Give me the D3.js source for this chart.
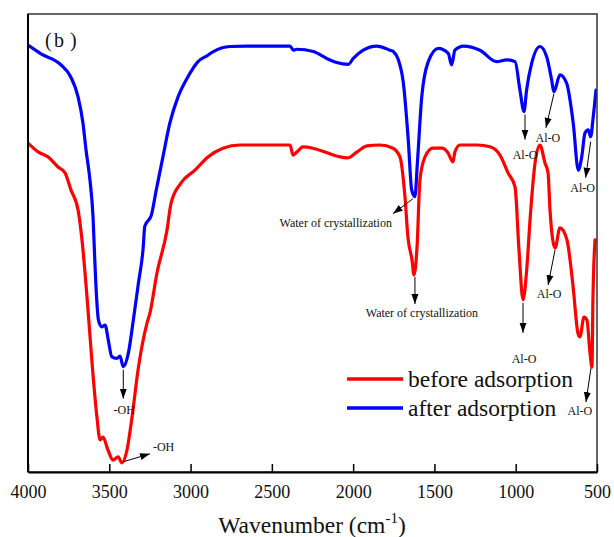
<!DOCTYPE html>
<html>
<head>
<meta charset="utf-8">
<script src="https://cdn.jsdelivr.net/npm/d3@7/dist/d3.min.js"></script>
<style>
  html, body { margin: 0; padding: 0; background: #fff; }
  svg { display: block; }
</style>
</head>
<body>
<svg id="chart" width="614" height="537"></svg>
<script>
// FTIR spectra: [wavenumber (cm-1), transmittance (a.u.)]
const seriesNames = ["before adsorption", "after adsorption"];
const seriesColors = ["#ff0000", "#0000ff"];

const beforeSpectrum = [
  [4000, 71.8], [3938, 69.9], [3877, 68.8], [3815, 66.6], [3772, 65.3], [3736, 61.6],
  [3692, 57.2], [3668, 50.7], [3637, 38.2], [3606, 23.8], [3576, 12.0], [3557, 7.0],
  [3539, 7.6], [3508, 4.8], [3477, 2.6], [3446, 3.3], [3422, 2.0], [3391, 4.8],
  [3360, 12.0], [3323, 22.3], [3268, 32.5], [3250, 34.7], [3207, 43.4], [3145, 52.8],
  [3120, 58.7], [3059, 63.1], [2973, 65.9], [2893, 68.8], [2801, 70.7], [2696, 71.4],
  [2555, 71.4], [2388, 71.4], [2370, 69.2], [2345, 69.9], [2308, 71.0], [2247, 70.7],
  [2161, 69.7], [2081, 68.8], [2032, 68.6], [1976, 69.9], [1915, 71.2], [1835, 71.4],
  [1755, 70.7], [1712, 68.8], [1681, 60.0], [1663, 51.3], [1638, 46.3], [1626, 43.0],
  [1607, 49.1], [1589, 63.8], [1558, 68.8], [1509, 70.7], [1453, 70.7], [1417, 69.7],
  [1386, 67.7], [1374, 69.9], [1343, 71.4], [1238, 71.4], [1158, 71.0], [1097, 69.2],
  [1047, 65.3], [1004, 62.2], [980, 48.5], [955, 37.6], [931, 44.8], [912, 55.0],
  [881, 67.5], [851, 71.4], [820, 67.5], [801, 65.3], [789, 57.2], [758, 48.9],
  [728, 53.3], [685, 50.7], [648, 40.8], [617, 30.3], [605, 29.5], [580, 33.8],
  [562, 33.2], [543, 26.0], [531, 22.9], [525, 37.6], [512, 50.7]
];

const afterSpectrum = [
  [4000, 93.2], [3920, 91.3], [3797, 88.9], [3736, 86.2], [3692, 81.9], [3662, 76.2],
  [3643, 70.3], [3619, 63.8], [3600, 55.7], [3590, 47.0], [3578, 38.0], [3567, 33.2],
  [3547, 31.7], [3526, 32.1], [3506, 28.8], [3485, 25.2], [3454, 24.8], [3434, 25.3],
  [3414, 23.0], [3383, 25.9], [3352, 33.2], [3321, 41.2], [3291, 49.2], [3282, 53.6],
  [3241, 56.1], [3211, 61.6], [3170, 68.8], [3128, 76.1], [3077, 81.9], [3016, 86.3],
  [2954, 89.6], [2893, 91.0], [2860, 91.8], [2757, 92.9], [2655, 93.0], [2388, 93.0],
  [2368, 92.1], [2347, 92.3], [2245, 91.8], [2163, 90.3], [2101, 89.4], [2030, 89.0],
  [1999, 90.3], [1938, 92.1], [1855, 93.0], [1773, 92.1], [1753, 91.8], [1722, 90.0],
  [1691, 84.9], [1661, 72.5], [1640, 61.6], [1620, 60.1], [1605, 67.4], [1578, 81.9],
  [1538, 89.6], [1476, 92.5], [1415, 91.4], [1394, 88.9], [1374, 92.1], [1322, 93.0],
  [1220, 92.1], [1117, 89.6], [1056, 90.0], [1004, 89.6], [974, 83.4], [949, 78.7],
  [933, 83.4], [902, 89.2], [851, 92.9], [810, 90.7], [779, 85.6], [765, 83.0],
  [728, 86.7], [687, 84.9], [646, 76.1], [615, 65.9], [594, 68.8], [574, 74.0],
  [554, 74.7], [539, 73.2], [523, 77.6], [506, 83.4]
];

const xTicks = [4000, 3500, 3000, 2500, 2000, 1500, 1000, 500];

// Band assignments marked with arrows: series index, band position, label
const bandSeries = [1, 0, 1, 0, 1, 1, 1, 0, 0, 0];
const bandWavenumber = [3414, 3422, 1620, 1626, 949, 765, 539, 955, 758, 531];
const bandLabel = ["-OH", "-OH", "Water of crystallization", "Water of crystallization",
  "Al-O", "Al-O", "Al-O", "Al-O", "Al-O", "Al-O"];

// Arrow start/end and label offsets from the band point, in pixels
const bandLayout = [
  { a0: [0, 3],  a1: [0, 32],   t: [1, 47],    anchor: "middle" },
  { a0: [1, -1], a1: [28, -9],  t: [31, -12],  anchor: "start" },
  { a0: [-2, 2], a1: [-22, 17], t: [-23, 30],  anchor: "end" },
  { a0: [1, 2],  a1: [1, 29],   t: [8, 42],    anchor: "middle" },
  { a0: [1, 3],  a1: [1, 28],   t: [1, 47],    anchor: "middle" },
  { a0: [0, 2],  a1: [-8, 36],  t: [-6, 50],   anchor: "middle" },
  { a0: [0, 5],  a1: [-5, 41],  t: [-8, 55],   anchor: "middle" },
  { a0: [0, 3],  a1: [0, 33],   t: [1, 63],    anchor: "middle" },
  { a0: [0, 2],  a1: [-7, 37],  t: [-6, 50],   anchor: "middle" },
  { a0: [-1, 1], a1: [-6, 35],  t: [-12, 48],  anchor: "middle" }
];

const serif = "'Liberation Serif', 'Times New Roman', serif";
const spectra = [beforeSpectrum, afterSpectrum];

const svg = d3.select("#chart");
const plotLeft = 28, plotRight = 597, plotTop = 14, plotBottom = 472;

const x = d3.scaleLinear().domain([4000, 500]).range([plotLeft, plotRight]);
const y = d3.scaleLinear().domain([0, 100]).range([plotBottom, plotTop]);

const defs = svg.append("defs");
defs.append("clipPath").attr("id", "plot-clip")
  .append("rect").attr("x", plotLeft).attr("y", plotTop)
  .attr("width", plotRight - plotLeft).attr("height", plotBottom - plotTop);

const marker = defs.append("marker")
  .attr("id", "arrowhead")
  .attr("markerUnits", "userSpaceOnUse")
  .attr("markerWidth", 12).attr("markerHeight", 10)
  .attr("refX", 10).attr("refY", 5)
  .attr("orient", "auto");
marker.append("path").attr("d", "M0,1.5L10,5L0,8.5Z").attr("fill", "#000");

// Spectra
const line = d3.line()
  .x(d => x(d[0]))
  .y(d => y(d[1]))
  .curve(d3.curveMonotoneX);

svg.append("g").attr("clip-path", "url(#plot-clip)")
  .selectAll("path")
  .data(spectra)
  .join("path")
  .attr("d", line)
  .attr("fill", "none")
  .attr("stroke", (d, i) => seriesColors[i])
  .attr("stroke-width", 3.2)
  .attr("stroke-linejoin", "round")
  .attr("stroke-linecap", "round");

// Frame
svg.append("rect")
  .attr("x", plotLeft).attr("y", plotTop)
  .attr("width", plotRight - plotLeft).attr("height", plotBottom - plotTop)
  .attr("fill", "none").attr("stroke", "#333").attr("stroke-width", 1.5);
svg.append("line").attr("x1", plotLeft).attr("x2", plotLeft)
  .attr("y1", plotTop).attr("y2", plotBottom)
  .attr("stroke", "#000").attr("stroke-width", 2);

// Bottom axis with inward ticks
const xAxis = d3.axisBottom(x)
  .tickValues(xTicks)
  .tickFormat(d3.format("d"))
  .tickSizeInner(-8)
  .tickSizeOuter(0)
  .tickPadding(13);

const gx = svg.append("g").attr("transform", `translate(0,${plotBottom})`).call(xAxis);
gx.select(".domain").attr("stroke", "#000").attr("stroke-width", 2);
gx.selectAll(".tick line").attr("stroke", "#000").attr("stroke-width", 1.5);
gx.selectAll(".tick text")
  .attr("font-family", serif).attr("font-size", 18).attr("fill", "#111");

// Axis title
const title = svg.append("text")
  .attr("x", 312).attr("y", 533)
  .attr("text-anchor", "middle")
  .attr("font-family", serif).attr("font-size", 23.5).attr("fill", "#111");
title.append("tspan").text("Wavenumber (cm");
title.append("tspan").attr("font-size", 15).attr("dy", -10).text("-1");
title.append("tspan").attr("dy", 10).text(")");

// Panel label
const panel = svg.append("text").attr("y", 47)
  .attr("font-family", serif).attr("font-size", 20).attr("fill", "#111");
panel.append("tspan").attr("x", 45).text("(");
panel.append("tspan").attr("x", 54).text("b");
panel.append("tspan").attr("x", 70).text(")");

// Band annotations
function valueAt(series, wn) {
  const p = series.find(d => d[0] === wn);
  return p ? p[1] : 0;
}

const notes = svg.append("g");
bandWavenumber.forEach((wn, i) => {
  const px = x(wn);
  const py = y(valueAt(spectra[bandSeries[i]], wn));
  const L = bandLayout[i];
  notes.append("line")
    .attr("x1", px + L.a0[0]).attr("y1", py + L.a0[1])
    .attr("x2", px + L.a1[0]).attr("y2", py + L.a1[1])
    .attr("stroke", "#000").attr("stroke-width", 1)
    .attr("marker-end", "url(#arrowhead)");
  notes.append("text")
    .attr("x", px + L.t[0]).attr("y", py + L.t[1])
    .attr("text-anchor", L.anchor)
    .attr("font-family", serif).attr("font-size", 12).attr("fill", "#111")
    .text(bandLabel[i]);
});

// Legend
const legend = svg.append("g");
seriesNames.forEach((name, i) => {
  const ly = 379 + i * 29;
  legend.append("line")
    .attr("x1", 347).attr("x2", 403).attr("y1", ly).attr("y2", ly)
    .attr("stroke", seriesColors[i]).attr("stroke-width", 3.5);
  legend.append("text")
    .attr("x", 408).attr("y", ly + 8)
    .attr("font-family", serif).attr("font-size", 23.5).attr("fill", "#111")
    .text(name);
});
</script>
</body>
</html>
